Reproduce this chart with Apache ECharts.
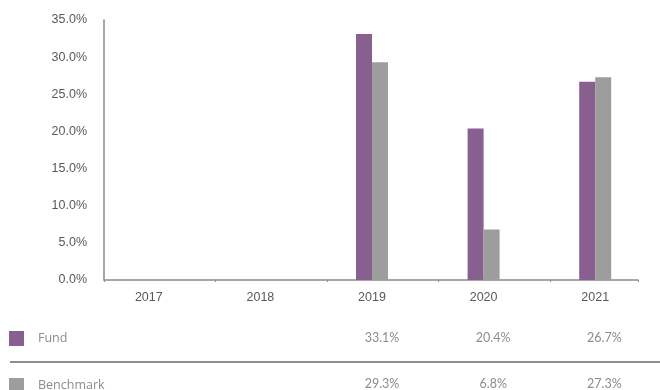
<!DOCTYPE html>
<html><head><meta charset="utf-8">
<script src="https://cdn.jsdelivr.net/npm/echarts@6/dist/echarts.min.js"></script>
<style>html,body{margin:0;padding:0;background:#fff}#c{width:660px;height:390px}</style>
</head><body><div id="c"></div>
<script>
const categories = ['2017', '2018', '2019', '2020', '2021'];
const fundValues = [null, null, 33.1, 20.4, 26.7];
const benchmarkValues = [null, null, 29.3, 6.8, 27.3];
const yTicks = { min: 0, max: 35, interval: 5 };
const seriesNames = ['Fund', 'Benchmark'];
const colors = ['#87608f', '#9d9d9d'];

const fmtPct = v => (v == null ? '' : v.toFixed(1) + '%');
const fundRow = fundValues.map(fmtPct);
const benchRow = benchmarkValues.map(fmtPct);

const chart = echarts.init(document.getElementById('c'), null, { renderer: 'canvas' });
const labelFont = { fontFamily: 'Liberation Sans, Arial, sans-serif', fontSize: 12.5, color: '#595959' };
const tableFont = { fontFamily: 'Lato, sans-serif', fontSize: 12.5, color: '#8c8c8c' };
const legendFont = { fontFamily: 'Open Sans, sans-serif', fontSize: 12.5, color: '#8c8c8c', lineHeight: 15 };

chart.setOption({
  animation: false,
  color: colors,
  grid: [
    { left: 93, width: 558, top: 20, bottom: 110 },
    { left: 104, width: 534, top: 20, bottom: 110 },
    { left: 104, width: 562.5, top: 338, height: 47 }
  ],
  xAxis: [
    { type: 'category', gridIndex: 0, data: categories,
      axisLine: { show: false }, axisTick: { show: false },
      axisLabel: Object.assign({ margin: 11 }, labelFont) },
    { type: 'value', gridIndex: 1, min: 0, max: 534 / 111.5, interval: 1,
      axisLine: { show: true, lineStyle: { color: '#8a8a8a', width: 1.5 } },
      axisTick: { show: true, length: 2, lineStyle: { color: '#8a8a8a' } },
      axisLabel: { show: false }, splitLine: { show: false } },
    { type: 'category', gridIndex: 2, position: 'top', data: fundRow,
      axisLine: { show: false }, axisTick: { show: false },
      axisLabel: Object.assign({ margin: 0, verticalAlign: 'middle', interval: 0 }, tableFont) },
    { type: 'category', gridIndex: 2, position: 'bottom', data: benchRow,
      axisLine: { show: false }, axisTick: { show: false },
      axisLabel: Object.assign({ margin: 0, verticalAlign: 'middle', interval: 0 }, tableFont) }
  ],
  yAxis: [
    { type: 'value', gridIndex: 0, min: yTicks.min, max: yTicks.max, interval: yTicks.interval,
      show: false },
    { type: 'value', gridIndex: 1, min: yTicks.min, max: yTicks.max, interval: yTicks.interval,
      axisLine: { show: true, lineStyle: { color: '#8a8a8a', width: 1.5 } },
      axisTick: { show: false }, splitLine: { show: false },
      axisLabel: Object.assign({ margin: 17, formatter: v => v.toFixed(1) + '%' }, labelFont) },
    { type: 'value', gridIndex: 2, show: false, min: 0, max: 1 }
  ],
  legend: {
    orient: 'vertical', left: 4, top: 326, height: 120, itemGap: 32,
    itemWidth: 15, itemHeight: 15, icon: 'rect',
    data: seriesNames,
    textStyle: Object.assign({ padding: [0, 0, 0, 9] }, legendFont)
  },
  graphic: [
    { type: 'rect', shape: { x: 10, y: 361, width: 650, height: 2 }, style: { fill: '#8e8e8e' }, silent: true }
  ],
  series: [
    { name: seriesNames[0], type: 'bar', xAxisIndex: 0, yAxisIndex: 0, data: fundValues,
      barWidth: 16, barGap: '0%', itemStyle: { color: colors[0] } },
    { name: seriesNames[1], type: 'bar', xAxisIndex: 0, yAxisIndex: 0, data: benchmarkValues,
      barWidth: 16, barGap: '0%', itemStyle: { color: colors[1] } }
  ]
});
</script></body></html>
